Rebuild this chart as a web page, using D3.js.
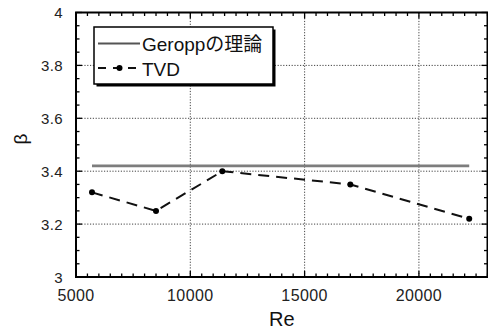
<!DOCTYPE html>
<html>
<head>
<meta charset="utf-8">
<script src="https://cdn.jsdelivr.net/npm/d3@7/dist/d3.min.js"></script>
<style>
  html, body { margin: 0; padding: 0; background: #fff; }
  svg { display: block; }
  text { font-family: "Liberation Sans", Arial, "Noto Sans CJK JP", sans-serif; }
</style>
</head>
<body>
<svg id="chart" width="488" height="329"></svg>
<script>
// Reynolds number of each TVD computation and the resulting beta
const reValues = [5700, 8500, 11400, 17000, 22200];
const tvdBeta = [3.32, 3.25, 3.40, 3.35, 3.22];
// Geropp's theoretical value, drawn over the same Re range
const geroppRe = [5700, 22200];
const geroppBeta = [3.42, 3.42];
// Axis ticks
const xTicks = [5000, 10000, 15000, 20000];
const yTicks = [3, 3.2, 3.4, 3.6, 3.8, 4];
const yTickLabels = ["3", "3.2", "3.4", "3.6", "3.8", "4"];
const legendLabels = ["Geroppの理論", "TVD"];

const svg = d3.select("#chart");
const plotL = 76, plotR = 487.5, plotT = 12.5, plotB = 277;

const x = d3.scaleLinear().domain([5000, 23000]).range([plotL, plotR]);
const y = d3.scaleLinear().domain([3, 4]).range([plotB, plotT]);

const xMinor = d3.range(5000, 23001, 500);
const yMinor = d3.range(0, 21).map(i => 3 + i * 0.05);

// dotted grid at major ticks
const grid = svg.append("g").attr("stroke", "#444").attr("stroke-width", 1)
  .attr("stroke-dasharray", "1.2,1.6");
grid.selectAll("line.gx").data(xTicks.slice(1)).join("line")
  .attr("x1", d => x(d)).attr("x2", d => x(d))
  .attr("y1", plotT).attr("y2", plotB);
grid.selectAll("line.gy").data(yTicks.slice(1, -1)).join("line")
  .attr("x1", plotL).attr("x2", plotR)
  .attr("y1", d => y(d)).attr("y2", d => y(d));

// inward ticks on all four sides
const ticks = svg.append("g").attr("stroke", "#000").attr("stroke-width", 1.3);
const isMajorX = d => d % 5000 === 0;
const isMajorY = d => Math.abs(d * 5 - Math.round(d * 5)) < 1e-6;
ticks.selectAll("line.bx").data(xMinor).join("line")
  .attr("x1", d => x(d)).attr("x2", d => x(d))
  .attr("y1", plotB).attr("y2", d => plotB - (isMajorX(d) ? 6 : 3.5));
ticks.selectAll("line.tx").data(xMinor).join("line")
  .attr("x1", d => x(d)).attr("x2", d => x(d))
  .attr("y1", plotT).attr("y2", d => plotT + (isMajorX(d) ? 6 : 3.5));
ticks.selectAll("line.ly").data(yMinor).join("line")
  .attr("x1", plotL).attr("x2", d => plotL + (isMajorY(d) ? 6 : 3.5))
  .attr("y1", d => y(d)).attr("y2", d => y(d));
ticks.selectAll("line.ry").data(yMinor).join("line")
  .attr("x1", plotR).attr("x2", d => plotR - (isMajorY(d) ? 6 : 3.5))
  .attr("y1", d => y(d)).attr("y2", d => y(d));

// frame
svg.append("rect").attr("x", plotL).attr("y", plotT)
  .attr("width", plotR - plotL).attr("height", plotB - plotT)
  .attr("fill", "none").attr("stroke", "#000").attr("stroke-width", 2);

// Geropp theory line
const line = d3.line().x(d => x(d[0])).y(d => y(d[1]));
svg.append("path")
  .attr("d", line(d3.zip(geroppRe, geroppBeta)))
  .attr("fill", "none").attr("stroke", "#7d7d7d").attr("stroke-width", 2.6);

// TVD results
svg.append("path")
  .attr("d", line(d3.zip(reValues, tvdBeta)))
  .attr("fill", "none").attr("stroke", "#111").attr("stroke-width", 2)
  .attr("stroke-dasharray", "11,7");
svg.selectAll("circle.tvd").data(d3.zip(reValues, tvdBeta)).join("circle")
  .attr("cx", d => x(d[0])).attr("cy", d => y(d[1])).attr("r", 3)
  .attr("fill", "#000");

// tick labels
svg.selectAll("text.xl").data(xTicks).join("text")
  .attr("x", d => x(d)).attr("y", 301)
  .attr("text-anchor", "middle").attr("font-size", 16)
  .attr("letter-spacing", 0.4).attr("fill", "#222")
  .text(d => d);
svg.selectAll("text.yl").data(yTicks).join("text")
  .attr("x", 63).attr("y", d => y(d) + 5.5)
  .attr("text-anchor", "end").attr("font-size", 15)
  .attr("letter-spacing", 0.4).attr("fill", "#222")
  .text((d, i) => yTickLabels[i]);

// axis titles
svg.append("text").attr("x", (plotL + plotR) / 2).attr("y", 326)
  .attr("text-anchor", "middle").attr("font-size", 20).attr("fill", "#111")
  .text("Re");
svg.append("text")
  .attr("transform", "translate(27,139) rotate(-90)")
  .attr("text-anchor", "middle").attr("font-size", 19).attr("fill", "#111")
  .text("β");

// legend
const lg = svg.append("g");
lg.append("rect").attr("x", 96.5).attr("y", 29.5).attr("width", 179).attr("height", 57)
  .attr("fill", "#000");
lg.append("rect").attr("x", 94).attr("y", 27).attr("width", 179).attr("height", 57)
  .attr("fill", "#fff").attr("stroke", "#000").attr("stroke-width", 1.5);
lg.append("line").attr("x1", 98).attr("x2", 140).attr("y1", 43.5).attr("y2", 43.5)
  .attr("stroke", "#555").attr("stroke-width", 2);
lg.append("line").attr("x1", 98).attr("x2", 141).attr("y1", 68).attr("y2", 68)
  .attr("stroke", "#111").attr("stroke-width", 2).attr("stroke-dasharray", "8,7");
lg.append("circle").attr("cx", 119.5).attr("cy", 68).attr("r", 3).attr("fill", "#000");
lg.selectAll("text").data(legendLabels).join("text")
  .attr("x", 142).attr("y", (d, i) => 50.5 + i * 25)
  .attr("font-size", 19).attr("fill", "#111")
  .text(d => d);
</script>
</body>
</html>
